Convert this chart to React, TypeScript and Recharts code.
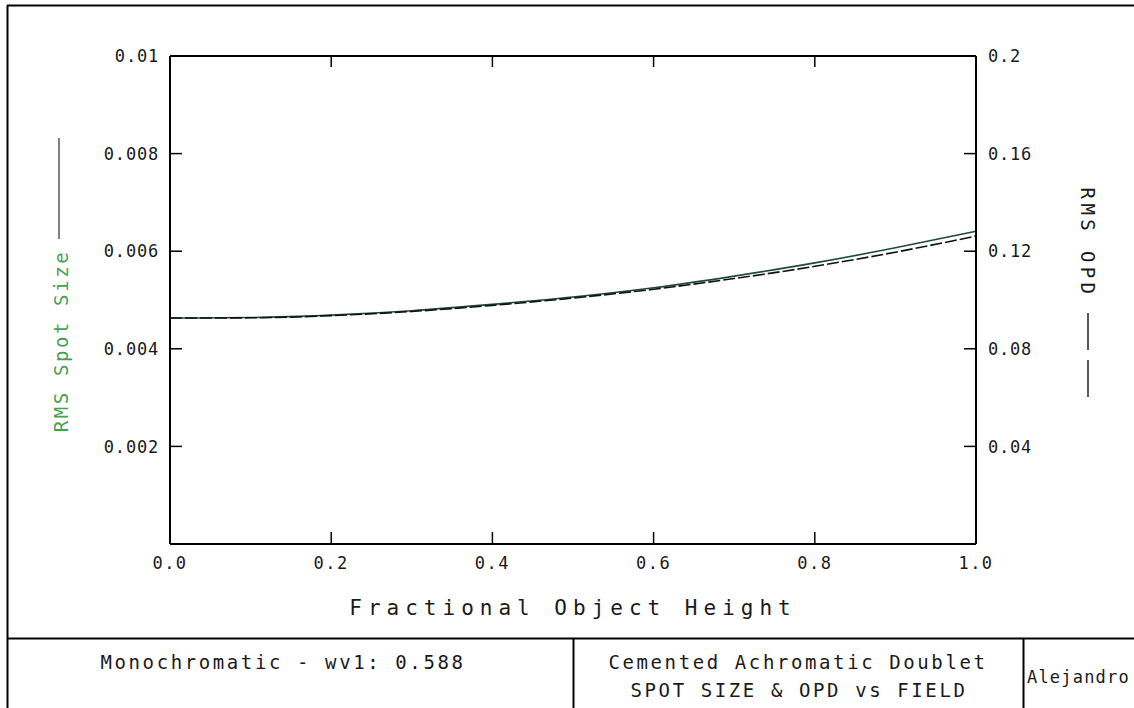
import React from 'react';
import { LineChart, Line, XAxis, YAxis } from 'recharts';

// fractional object height (field) and the two traced curves
const fieldHeights = [0, 0.1, 0.2, 0.3, 0.4, 0.5, 0.6, 0.7, 0.8, 0.9, 1.0];
const rmsSpotSize = [0.00463, 0.00464, 0.00469, 0.00478, 0.00491, 0.00506, 0.00525, 0.00549, 0.00576, 0.00607, 0.00641];
const rmsOpd = [0.0926, 0.0927, 0.0936, 0.0953, 0.0978, 0.1008, 0.1044, 0.1088, 0.1138, 0.1196, 0.1262];

const xTicks = [0, 0.2, 0.4, 0.6, 0.8, 1.0];
const xTickLabels = ['0.0', '0.2', '0.4', '0.6', '0.8', '1.0'];
const topTicks = [0.2, 0.4, 0.6, 0.8];
const spotTicks = [0.002, 0.004, 0.006, 0.008, 0.01];
const spotTickLabels = ['0.002', '0.004', '0.006', '0.008', '0.01'];
const opdTicks = [0.04, 0.08, 0.12, 0.16, 0.2];
const opdTickLabels = ['0.04', '0.08', '0.12', '0.16', '0.2'];

const FONT = '"DejaVu Sans Mono", monospace';
const INK = '#1a1a1a';

const data = fieldHeights.map((h, i) => ({ h, spot: rmsSpotSize[i], opd: rmsOpd[i] }));

const labelFor = (ticks: number[], labels: string[], v: number) => {
  const i = ticks.findIndex(t => Math.abs(t - v) < 1e-9);
  return i >= 0 ? labels[i] : String(v);
};

const LeftTick = ({ x, y, payload }: any) => (
  <g>
    <line x1={x} y1={y} x2={x + 12} y2={y} stroke="#000" strokeWidth={1.5} />
    <text x={x - 11} y={y} dy="0.36em" textAnchor="end" fontFamily={FONT} fontSize={17} letterSpacing={0.8} fill={INK}>
      {labelFor(spotTicks, spotTickLabels, payload.value)}
    </text>
  </g>
);

const RightTick = ({ x, y, payload }: any) => (
  <g>
    <line x1={x} y1={y} x2={x - 12} y2={y} stroke="#000" strokeWidth={1.5} />
    <text x={x + 12} y={y} dy="0.36em" textAnchor="start" fontFamily={FONT} fontSize={17} letterSpacing={0.8} fill={INK}>
      {labelFor(opdTicks, opdTickLabels, payload.value)}
    </text>
  </g>
);

const BottomTick = ({ x, y, payload }: any) => (
  <g>
    <line x1={x} y1={y} x2={x} y2={y - 12} stroke="#000" strokeWidth={1.5} />
    <text x={x} y={y + 19} dy="0.36em" textAnchor="middle" fontFamily={FONT} fontSize={17} letterSpacing={1.5} fill={INK}>
      {labelFor(xTicks, xTickLabels, payload.value)}
    </text>
  </g>
);

const TopTick = ({ x, y }: any) => (
  <line x1={x} y1={y} x2={x} y2={y + 11} stroke="#000" strokeWidth={1.5} />
);

export default function App() {
  return (
    <div style={{ position: 'absolute', left: 0, top: 0, width: 1134, height: 708, background: '#fff', overflow: 'hidden' }}>
      <LineChart width={1134} height={708} data={data} margin={{ top: 36, right: 98, bottom: 124, left: 110 }}>
        <XAxis
          xAxisId="b"
          dataKey="h"
          type="number"
          domain={[0, 1]}
          ticks={xTicks}
          interval={0}
          height={40}
          tickSize={0}
          tickMargin={0}
          tickLine={false}
          axisLine={{ stroke: '#000', strokeWidth: 2 }}
          tick={<BottomTick />}
        />
        <XAxis
          xAxisId="t"
          orientation="top"
          dataKey="h"
          type="number"
          domain={[0, 1]}
          ticks={topTicks}
          interval={0}
          height={20}
          tickSize={0}
          tickMargin={0}
          tickLine={false}
          axisLine={{ stroke: '#000', strokeWidth: 2 }}
          tick={<TopTick />}
        />
        <YAxis
          yAxisId="spot"
          type="number"
          domain={[0, 0.01]}
          ticks={spotTicks}
          interval={0}
          width={60}
          tickSize={0}
          tickMargin={0}
          tickLine={false}
          axisLine={{ stroke: '#000', strokeWidth: 2 }}
          tick={<LeftTick />}
        />
        <YAxis
          yAxisId="opd"
          orientation="right"
          type="number"
          domain={[0, 0.2]}
          ticks={opdTicks}
          interval={0}
          width={60}
          tickSize={0}
          tickMargin={0}
          tickLine={false}
          axisLine={{ stroke: '#000', strokeWidth: 2 }}
          tick={<RightTick />}
        />
        <Line xAxisId="b" yAxisId="spot" type="monotone" dataKey="spot" stroke="#1d4a3a" strokeWidth={1.6} dot={false} isAnimationActive={false} />
        <Line xAxisId="b" yAxisId="opd" type="monotone" dataKey="opd" stroke="#111" strokeWidth={1.6} strokeDasharray="12 3" dot={false} isAnimationActive={false} />
      </LineChart>

      <svg width={1134} height={708} style={{ position: 'absolute', left: 0, top: 0, pointerEvents: 'none' }}>
        {/* page frame and title block */}
        <line x1={7} y1={5.5} x2={1134} y2={5.5} stroke="#000" strokeWidth={2} />
        <line x1={7.5} y1={5} x2={7.5} y2={708} stroke="#000" strokeWidth={2} />
        <line x1={7} y1={638.5} x2={1134} y2={638.5} stroke="#000" strokeWidth={2} />
        <line x1={573.5} y1={638} x2={573.5} y2={708} stroke="#000" strokeWidth={2} />
        <line x1={1023.5} y1={638} x2={1023.5} y2={708} stroke="#000" strokeWidth={2} />

        <text x={573} y={607} dy="0.36em" textAnchor="middle" fontFamily={FONT} fontSize={21} letterSpacing={6} fill={INK}>
          Fractional Object Height
        </text>

        <g transform="translate(61 341) rotate(-90)">
          <text x={0} y={0} dy="0.36em" textAnchor="middle" fontFamily={FONT} fontSize={19} letterSpacing={2.6} fill="#4a9e52">
            RMS Spot Size
          </text>
        </g>
        <line x1={59} y1={138} x2={59} y2={239} stroke="#555" strokeWidth={1.5} />

        <g transform="translate(1088 243) rotate(90)">
          <text x={0} y={0} dy="0.36em" textAnchor="middle" fontFamily={FONT} fontSize={19} letterSpacing={4.4} fill={INK}>
            RMS OPD
          </text>
        </g>
        <line x1={1088} y1={313} x2={1088} y2={350} stroke="#222" strokeWidth={1.5} />
        <line x1={1088} y1={360} x2={1088} y2={397} stroke="#222" strokeWidth={1.5} />

        <text x={283} y={662} dy="0.36em" textAnchor="middle" fontFamily={FONT} fontSize={19} letterSpacing={2.6} fill={INK}>
          Monochromatic - wv1: 0.588
        </text>
        <text x={798} y={662} dy="0.36em" textAnchor="middle" fontFamily={FONT} fontSize={19} letterSpacing={2.6} fill={INK}>
          Cemented Achromatic Doublet
        </text>
        <text x={799} y={690} dy="0.36em" textAnchor="middle" fontFamily={FONT} fontSize={19} letterSpacing={2.6} fill={INK}>
          SPOT SIZE &amp; OPD vs FIELD
        </text>
        <text x={1027} y={677} dy="0.36em" textAnchor="start" fontFamily={FONT} fontSize={17} letterSpacing={1.2} fill={INK}>
          Alejandro
        </text>
      </svg>
    </div>
  );
}
